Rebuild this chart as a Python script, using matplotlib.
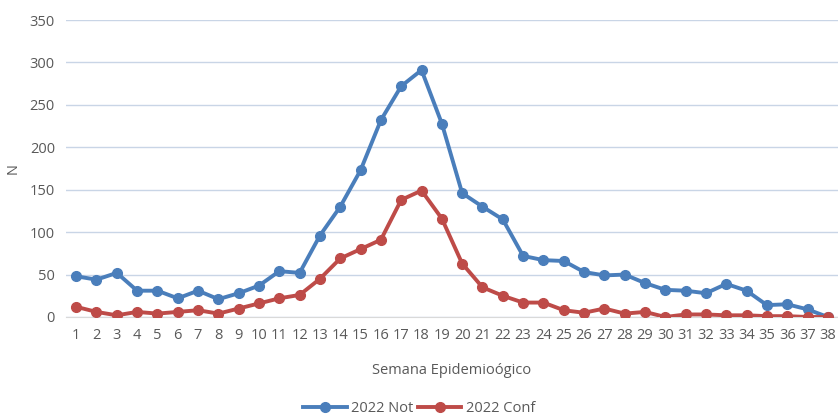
import matplotlib
matplotlib.use("Agg")
import matplotlib.pyplot as plt

plt.rcParams['font.family'] = ['Open Sans', 'DejaVu Sans']

semanas = list(range(1, 39))
notificados = [48, 44, 52, 31, 31, 22, 31, 21, 28, 37, 54, 52, 96, 130, 173, 232, 272, 291, 228, 146,
               130, 115, 72, 67, 66, 53, 49, 50, 40, 32, 31, 28, 39, 31, 14, 15, 9, 0]
confirmados = [12, 6, 2, 6, 4, 6, 8, 4, 10, 16, 22, 26, 45, 69, 80, 91, 138, 149, 116, 63,
               35, 25, 17, 17, 8, 5, 10, 4, 6, 0, 3, 3, 2, 2, 1, 1, 0, 0]
series_names = ["2022 Not", "2022 Conf"]

text_color = "#595959"
fs = 10.5

fig = plt.figure(figsize=(8.38, 4.18), dpi=100)
ax = fig.add_axes([66 / 838, 1 - 317 / 418, 1 - 66 / 838, (317 - 20) / 418])

ax.plot(semanas, notificados, color="#4a7ebb", lw=2.8, marker="o", ms=7, label=series_names[0], zorder=3)
ax.plot(semanas, confirmados, color="#be4b48", lw=2.8, marker="o", ms=7, label=series_names[1], zorder=3)

ax.set_xlim(0.5, 38.5)
ax.set_ylim(0, 350)
ax.set_yticks(range(0, 351, 50))
ax.set_xticks(semanas)
ax.yaxis.grid(True, color="#c9d5e6", lw=1)
ax.set_axisbelow(True)
for s in ["top", "right", "left"]:
    ax.spines[s].set_visible(False)
ax.spines["bottom"].set_color("#d9d9d9")
ax.tick_params(axis="both", length=0, labelsize=fs, colors=text_color)
ax.tick_params(axis="x", pad=8)
ax.tick_params(axis="y", pad=8)

ax.set_ylabel("N", fontsize=fs, color=text_color)
ax.yaxis.set_label_coords(-45 / 772, 0.5)
ax.set_xlabel("Semana Epidemioógico", fontsize=fs, color=text_color, labelpad=14)

leg = fig.legend(loc="center", bbox_to_anchor=(0.5, 1 - 409 / 418), ncol=2, frameon=False,
                 fontsize=fs, handlelength=3, columnspacing=0.3, handletextpad=0.3)
for t in leg.get_texts():
    t.set_color(text_color)

fig.savefig("out.png", dpi=100)
